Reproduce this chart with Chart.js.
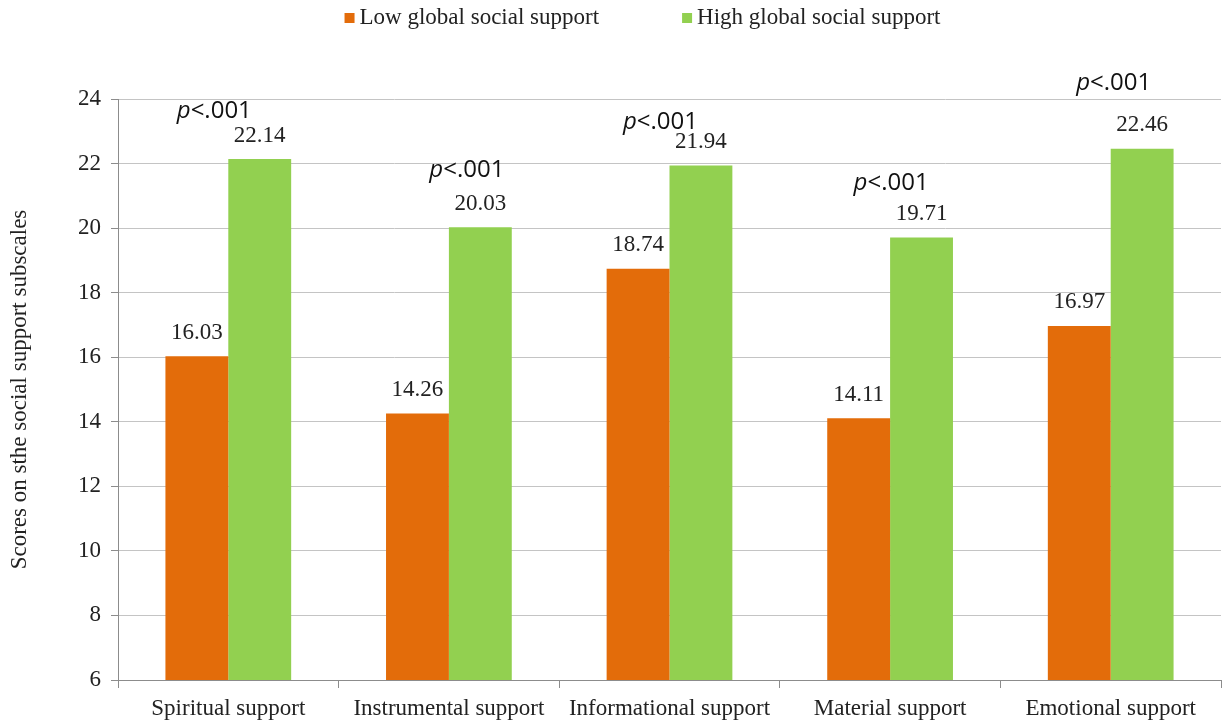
<!DOCTYPE html>
<html>
<head>
<meta charset="utf-8">
<script src="https://cdn.jsdelivr.net/npm/chart.js@4"></script>
<style>
  html, body { margin: 0; padding: 0; background: #fff; }
  #wrap { width: 1222px; height: 723px; }
</style>
</head>
<body>
<div id="wrap"><canvas id="chart" width="1222" height="723"></canvas></div>
<script>
const categories = [
  "Spiritual support",
  "Instrumental support",
  "Informational support",
  "Material support",
  "Emotional support"
]
const lowSupport = [16.03, 14.26, 18.74, 14.11, 16.97]
const highSupport = [22.14, 20.03, 21.94, 19.71, 22.46]
// p value note over each pair, height read in axis units
const pText = ["<.001", "<.001", "<.001", "<.001", "<.001"]
const pLevel = [23.63, 21.8, 23.29, 21.4, 24.5]
const pShift = [-14, 18, -9, 1, 3]

const serif = "'Liberation Serif', 'Times New Roman', serif"
const sans = "'Open Sans', sans-serif"
const gridGrey = "#c4c4c4"
const axisGrey = "#8c8c8c"

// legend drawn by hand so it can sit high above the plot
const topLegend = {
  id: "topLegend",
  afterDraw(chart) {
    const ctx = chart.ctx
    const items = chart.data.datasets
    ctx.save()
    ctx.font = "23px " + serif
    ctx.textBaseline = "middle"
    ctx.textAlign = "left"
    const box = 10, gap = 5, spacing = 83
    const widths = items.map(d => box + gap + ctx.measureText(d.label).width)
    const total = widths.reduce((a, b) => a + b, 0) + spacing * (items.length - 1)
    let x = (chart.chartArea.left + chart.chartArea.right) / 2 - 27 - total / 2
    const y = 18
    items.forEach((d, i) => {
      ctx.fillStyle = d.backgroundColor
      ctx.fillRect(x, y - box / 2, box, box)
      ctx.fillStyle = "#222"
      ctx.fillText(d.label, x + box + gap, y)
      x += widths[i] + spacing
    })
    ctx.restore()
  }
}

const valueLabels = {
  id: "valueLabels",
  afterDatasetsDraw(chart) {
    const ctx = chart.ctx
    ctx.save()
    ctx.font = "23px " + serif
    ctx.fillStyle = "#222"
    ctx.textAlign = "center"
    ctx.textBaseline = "bottom"
    chart.data.datasets.forEach((ds, i) => {
      chart.getDatasetMeta(i).data.forEach((bar, j) => {
        ctx.fillText(ds.data[j].toFixed(2), bar.x, bar.y - 12)
      })
    })
    // p-value notes
    const y = chart.scales.y
    const x = chart.scales.x
    ctx.textBaseline = "middle"
    ctx.textAlign = "left"
    ctx.fillStyle = "#111"
    categories.forEach((c, j) => {
      const cx = x.getPixelForValue(j) + pShift[j]
      const cy = y.getPixelForValue(pLevel[j])
      ctx.font = "italic 24px " + sans
      const w1 = ctx.measureText("p").width
      ctx.font = "24px " + sans
      const w2 = ctx.measureText(pText[j]).width
      const left = cx - (w1 + w2) / 2
      ctx.font = "italic 24px " + sans
      ctx.fillText("p", left, cy)
      ctx.font = "24px " + sans
      ctx.fillText(pText[j], left + w1, cy)
    })
    ctx.restore()
  }
}

const ctx = document.getElementById("chart").getContext("2d")
const chart = new Chart(ctx, {
  type: "bar",
  data: {
    labels: categories,
    datasets: [
      {
        label: "Low global social support",
        data: lowSupport,
        backgroundColor: "#e36c0a",
        barPercentage: 1,
        categoryPercentage: 0.57
      },
      {
        label: "High global social support",
        data: highSupport,
        backgroundColor: "#92d050",
        barPercentage: 1,
        categoryPercentage: 0.57
      }
    ]
  },
  options: {
    responsive: false,
    animation: false,
    layout: { padding: { left: 6, right: 1, top: 99, bottom: 0 } },
    plugins: {
      tooltip: { enabled: false },
      legend: { display: false }
    },
    scales: {
      x: {
        afterFit(scale) { scale.height = 43 },
        grid: {
          display: true,
          drawOnChartArea: false,
          drawTicks: true,
          tickLength: 8,
          color: axisGrey
        },
        border: { color: axisGrey },
        ticks: {
          color: "#222",
          font: { family: serif, size: 23 },
          maxRotation: 0,
          padding: 7
        }
      },
      y: {
        min: 6,
        max: 24,
        afterFit(scale) { scale.width = 112 },
        ticks: {
          stepSize: 2,
          color: "#222",
          font: { family: serif, size: 23 },
          padding: 10
        },
        grid: { color: gridGrey, tickLength: 7, tickColor: axisGrey },
        border: { color: axisGrey },
        title: {
          display: true,
          text: "Scores on sthe social support subscales",
          color: "#222",
          font: { family: serif, size: 23 },
          padding: { top: 0, bottom: 0 }
        }
      }
    }
  },
  plugins: [valueLabels, topLegend]
})
</script>
</body>
</html>
